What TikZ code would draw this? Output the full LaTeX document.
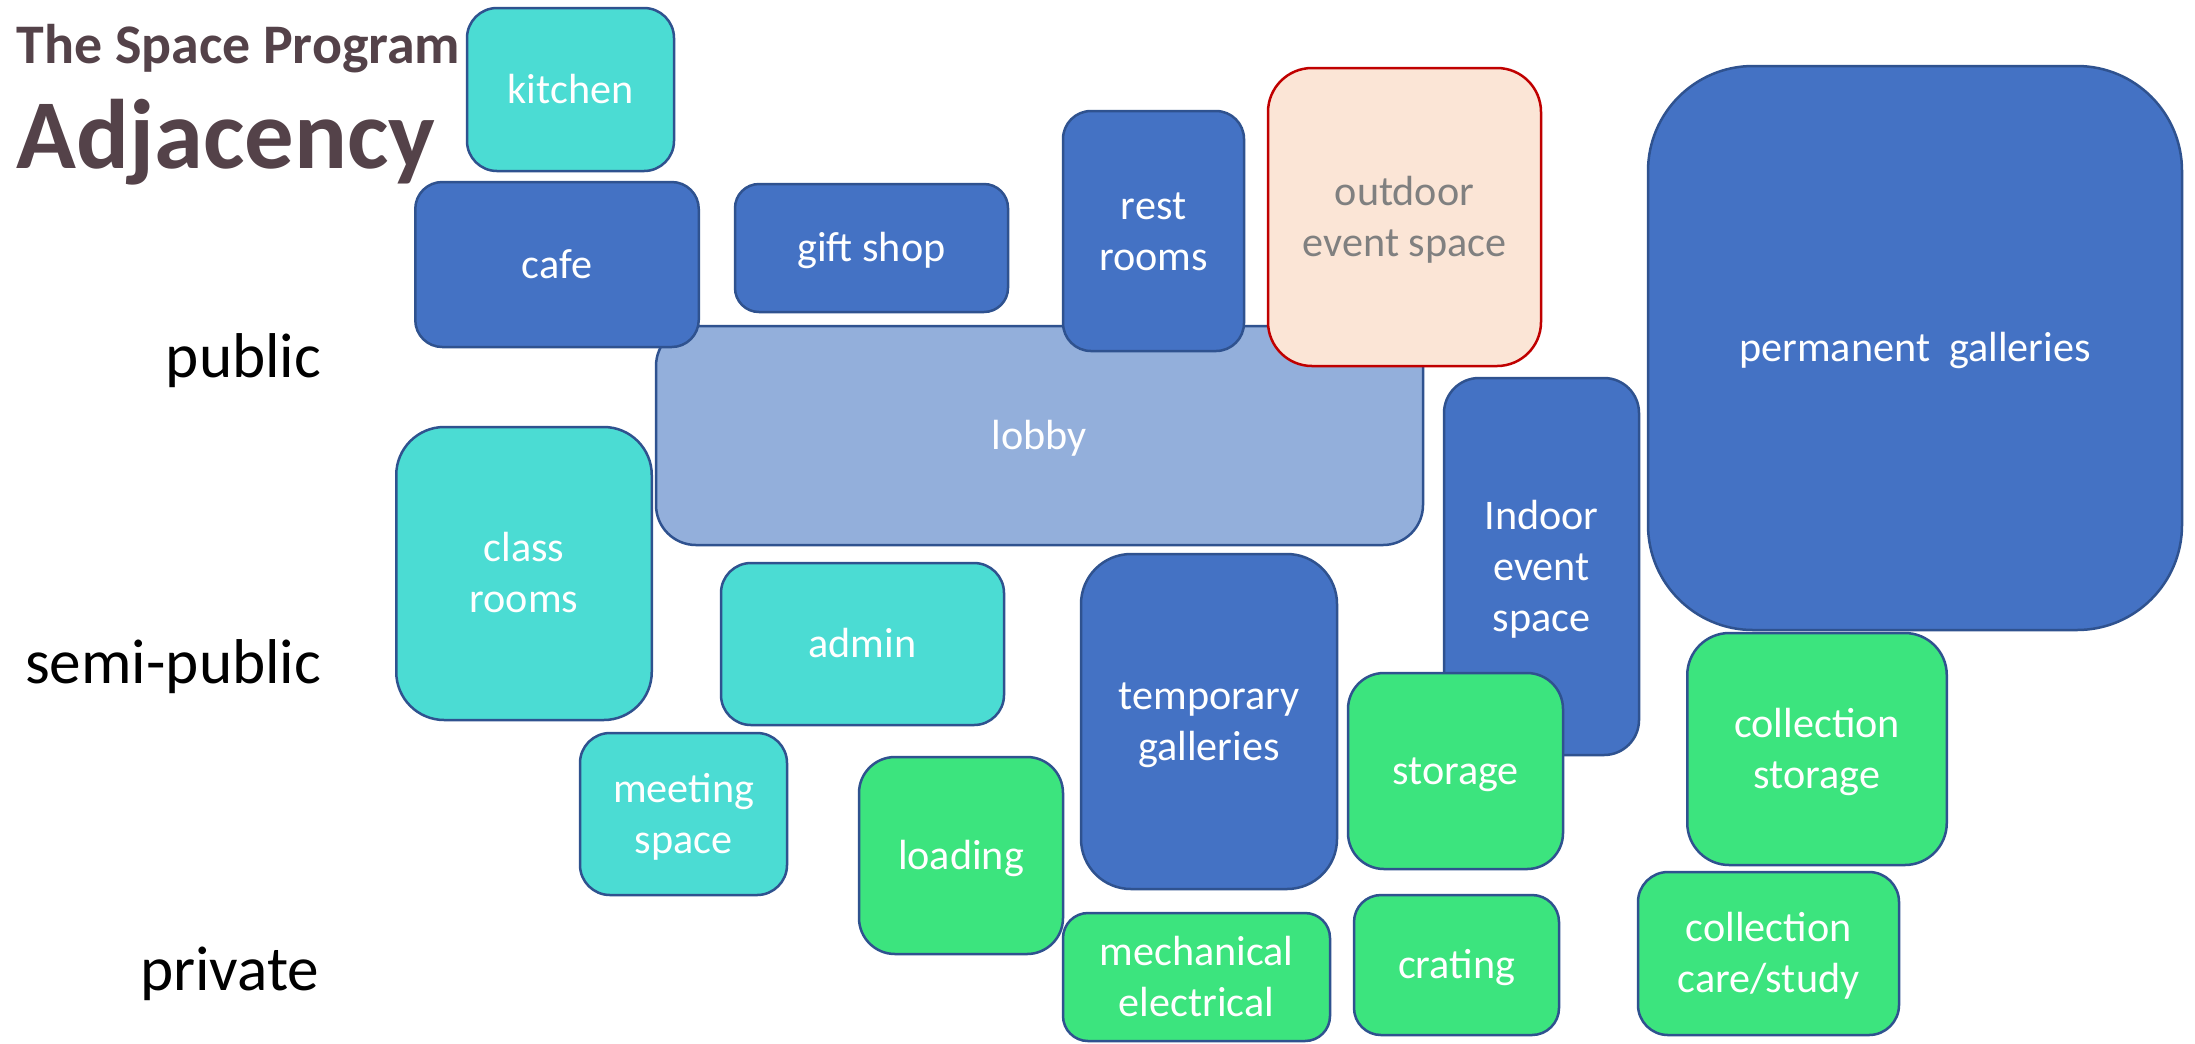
\documentclass[tikz,border=0pt]{standalone}
\usepackage{fontspec}
\setmainfont{Carlito}
\definecolor{pubblue}{HTML}{4472C4}
\definecolor{lobbyblue}{HTML}{93AFDB}
\definecolor{semiteal}{HTML}{4BDCD3}
\definecolor{privgreen}{HTML}{3CE47E}
\definecolor{rimblue}{HTML}{2F528F}
\definecolor{outpeach}{HTML}{FBE5D6}
\definecolor{outred}{HTML}{C00000}
\definecolor{titlegray}{HTML}{544249}
\newcommand{\roomstrut}{\rule[-0.25em]{0pt}{1.16em}}
\begin{document}
\begin{tikzpicture}[x=0.1mm, y=-0.1mm,
		room/.style={draw=rimblue, line width=0.25mm, text=white, align=center, inner sep=0pt, font=\fontsize{12}{14.5}\selectfont,
			execute at begin node=\roomstrut, execute at end node=\roomstrut},
		pub/.style={room, fill=pubblue},
		semi/.style={room, fill=semiteal},
		priv/.style={room, fill=privgreen},
		zone/.style={anchor=base east, inner sep=0pt, font=\fontsize{18}{21}\selectfont},
		headline/.style={anchor=base west, inner sep=0pt, text=titlegray}]
		
		\path[fill=white, use as bounding box] (0,0) rectangle (2195,1043);
		
		% titles and zones
		\node[headline, font=\fontsize{15.9}{18}\selectfont\bfseries] (program) at (16,63) {The Space Program};
		\node[headline, font=\fontsize{28.1}{32}\selectfont\bfseries] (adjacency) at (16,168) {Adjacency};
		\node[zone] (public) at (322,377) {public};
		\node[zone] (semipublic) at (322,683) {semi-public};
		\node[zone] (private) at (320,990) {private};
		
		% public
		\node[pub, fill=lobbyblue, minimum width=76.7mm, minimum height=21.9mm, rounded corners=4mm] (lobby) at (1039.5,435.5) {lobby};
		\node[semi, minimum width=20.7mm, minimum height=16.3mm, rounded corners=3mm] (kitchen) at (570.5,89.5) {kitchen};
		\node[pub, minimum width=28.35mm, minimum height=16.5mm, rounded corners=2.7mm] (cafe) at (557,264.5) {cafe};
		\node[pub, minimum width=27.3mm, minimum height=12.8mm, rounded corners=2.4mm] (giftshop) at (871.5,248) {gift shop};
		\node[pub, minimum width=18.1mm, minimum height=24mm, rounded corners=2.8mm] (restrooms) at (1153.5,231) {\roomstrut rest\\rooms};
		\node[room, fill=outpeach, draw=outred, text=black!50, minimum width=27.3mm, minimum height=29.8mm, rounded corners=4.4mm] (outdoor) at (1404.5,217) {\roomstrut outdoor\\event space};
		\node[pub, minimum width=19.5mm, minimum height=37.7mm, rounded corners=3.5mm] (indoor) at (1541.5,566.5) {\roomstrut Indoor\\event\\space};
		\node[pub, minimum width=53.4mm, minimum height=56.4mm, rounded corners=10.5mm] (permanent) at (1915,348) {permanent~~galleries};
		\node[pub, minimum width=25.6mm, minimum height=33.5mm, rounded corners=5mm] (temporary) at (1209,721.5) {\roomstrut temporary\\galleries};
		
		% semi-public
		\node[semi, minimum width=25.55mm, minimum height=29.3mm, rounded corners=4.8mm] (classrooms) at (524,573.5) {\roomstrut class\\rooms};
		\node[semi, minimum width=28.3mm, minimum height=16.2mm, rounded corners=3mm] (admin) at (862.5,644) {admin};
		\node[semi, minimum width=20.7mm, minimum height=16.2mm, rounded corners=3mm] (meeting) at (683.5,814) {\roomstrut meeting\\space};
		
		% private
		\node[priv, minimum width=20.4mm, minimum height=19.7mm, rounded corners=3.6mm] (loading) at (961,855.5) {loading};
		\node[priv, minimum width=26.7mm, minimum height=12.8mm, rounded corners=2.5mm] (mechanical) at (1196.5,977) {\roomstrut mechanical\\electrical};
		\node[priv, minimum width=21.5mm, minimum height=19.6mm, rounded corners=3.6mm] (storage) at (1455.5,771) {storage};
		\node[priv, minimum width=25.95mm, minimum height=23.2mm, rounded corners=4.2mm] (collstorage) at (1817,749) {\roomstrut collection\\storage};
		\node[priv, minimum width=20.5mm, minimum height=14mm, rounded corners=2.7mm] (crating) at (1456.5,965) {crating};
		\node[priv, minimum width=26.1mm, minimum height=16.3mm, rounded corners=3mm] (collcare) at (1768.5,953.5) {\roomstrut collection\\care/study};
		
	\end{tikzpicture}
\end{document}
